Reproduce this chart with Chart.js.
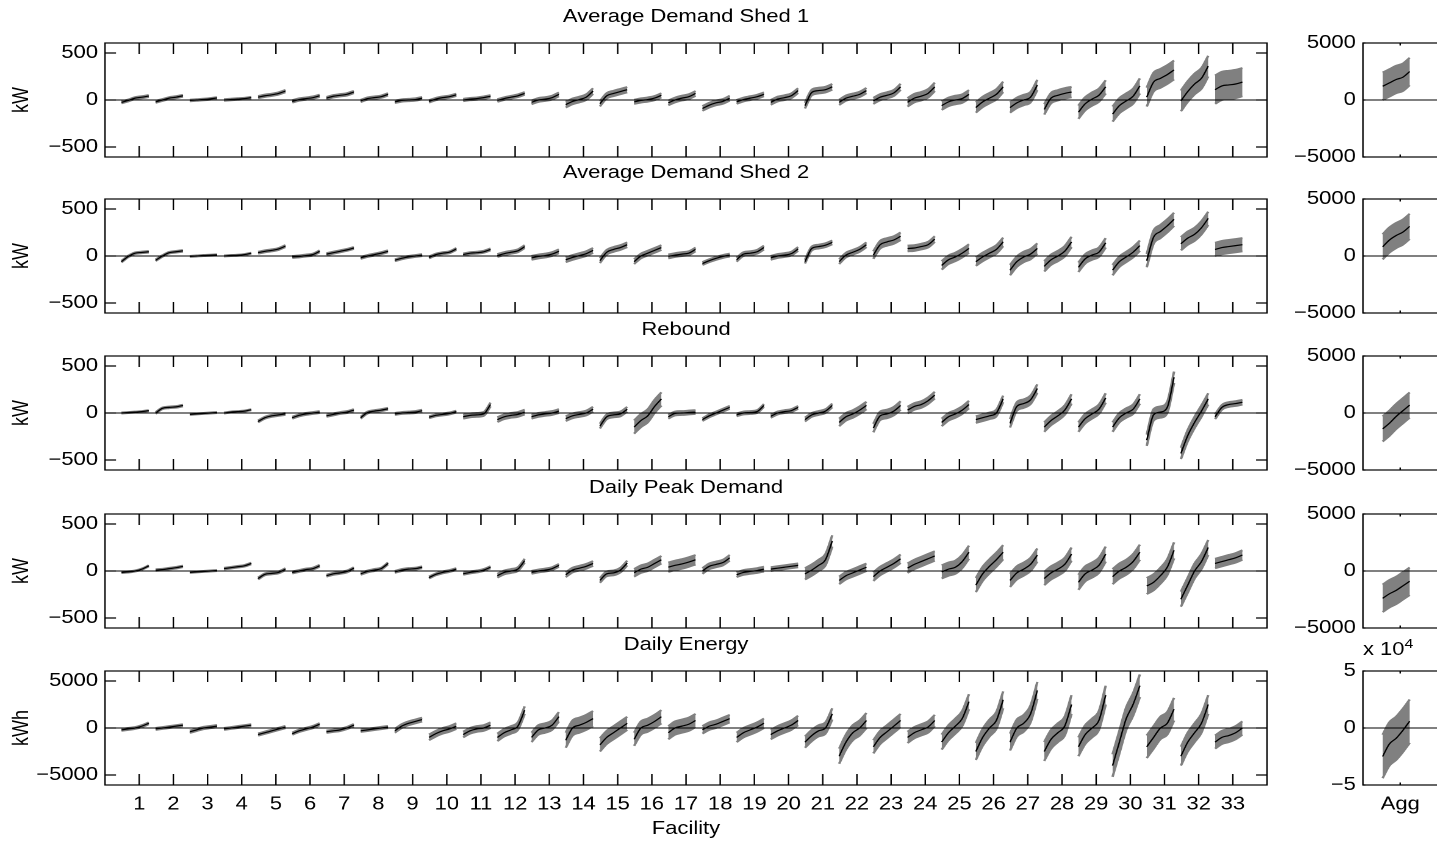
<!DOCTYPE html>
<html>
<head>
<meta charset="utf-8">
<title>Demand response estimates by facility</title>
<script src="https://cdn.jsdelivr.net/npm/chart.js@4.4.1/dist/chart.umd.min.js"></script>
<style>
  html, body { margin: 0; padding: 0; background: #fff; overflow: hidden; }
  #page { position: relative; height: 844px; transform-origin: 0 0; font-family: "Liberation Sans", Arial, Helvetica, sans-serif; }
  .panel { position: absolute; }
  #exp { position: absolute; top: 640px; font-size: 18px; line-height: 18px; white-space: nowrap; color: #000; }
  #exp sup { font-size: 13px; vertical-align: 7px; line-height: 0; }
</style>
</head>
<body>
<div id="page">
  <div id="exp">x 10<sup>4</sup></div>
</div>
<script>
// facilities on the x axis
const FACILITIES = [1, 2, 3, 4, 5, 6, 7, 8, 9, 10, 11, 12, 13, 14, 15, 16, 17, 18, 19, 20, 21, 22, 23, 24, 25, 26, 27, 28, 29, 30, 31, 32, 33];
const AGG_X = [1];

const TITLES = ['Average Demand Shed 1', 'Average Demand Shed 2', 'Rebound', 'Daily Peak Demand', 'Daily Energy'];
const UNITS = ['kW', 'kW', 'kW', 'kW', 'kWh'];

// sorted estimates per facility (5 per facility) and half-height of the gray band
const SHED1 = [
  [-25, -5, 20, 30, 42], [-20, 0, 20, 30, 45], [-5, 0, 5, 12, 22], [0, 5, 10, 15, 25], [30, 45, 55, 70, 95],
  [-15, 5, 15, 25, 45], [20, 40, 50, 60, 85], [-10, 15, 25, 35, 60], [-20, -5, 0, 5, 20], [-15, 10, 25, 35, 55],
  [0, 10, 15, 25, 40], [-5, 15, 30, 45, 70], [-25, 0, 10, 25, 60], [-50, -15, 5, 30, 95], [-40, 45, 70, 90, 110],
  [-20, -5, 5, 20, 50], [-30, 0, 20, 35, 70], [-90, -55, -30, -15, 20], [-20, 5, 20, 35, 60], [-25, 10, 25, 45, 100],
  [-60, 80, 100, 110, 140], [-25, 20, 40, 60, 100], [-10, 30, 50, 75, 140], [-25, 20, 40, 70, 140], [-60, -20, 0, 15, 60],
  [-80, -20, 20, 60, 140], [-80, -30, 0, 30, 160], [-100, 20, 50, 70, 85], [-130, -40, 10, 50, 140], [-150, -60, -10, 40, 150],
  [30, 190, 230, 270, 320], [-10, 90, 170, 230, 360], [110, 150, 160, 170, 190]
];
const SHED1_ERR = [10, 10, 8, 8, 12, 12, 12, 12, 12, 12, 12, 14, 20, 30, 28, 22, 25, 25, 20, 25, 30, 28, 32, 45, 45, 55, 55, 55, 70, 80, 100, 110, 150];

const SHED2 = [
  [-60, -5, 30, 38, 45], [-45, 0, 35, 45, 55], [-5, 0, 5, 8, 12], [0, 5, 8, 15, 30], [35, 50, 60, 75, 105],
  [-10, -5, 5, 15, 50], [20, 35, 50, 65, 85], [-20, 0, 15, 30, 50], [-45, -25, -10, 0, 10], [-15, 15, 30, 40, 75],
  [15, 30, 35, 45, 70], [5, 25, 40, 55, 100], [-20, -5, 5, 20, 50], [-40, -15, 5, 25, 60], [-50, 40, 70, 90, 120],
  [-60, 0, 30, 60, 90], [-5, 10, 20, 30, 70], [-80, -50, -25, -5, 10], [-40, 20, 30, 45, 90], [-20, 0, 10, 25, 75],
  [-60, 80, 100, 115, 145], [-60, 10, 40, 70, 120], [10, 120, 150, 170, 210], [80, 85, 100, 120, 180], [-100, -40, -10, 30, 80],
  [-60, -10, 30, 70, 150], [-150, -60, -10, 20, 80], [-110, -40, 0, 50, 150], [-120, -30, 10, 40, 140], [-150, -60, -10, 40, 110],
  [-50, 200, 260, 320, 390], [130, 190, 230, 300, 400], [70, 90, 100, 110, 120]
];
const SHED2_ERR = [8, 8, 5, 5, 10, 10, 10, 10, 10, 10, 10, 15, 20, 25, 25, 25, 20, 15, 20, 20, 20, 25, 40, 30, 45, 45, 55, 55, 50, 55, 70, 70, 70];

const REBOUND = [
  [0, 5, 10, 15, 25], [0, 50, 60, 65, 80], [-15, -10, -5, 0, 5], [0, 10, 15, 20, 35], [-90, -50, -30, -20, -10],
  [-50, -25, -10, 0, 10], [-30, -15, 0, 10, 30], [-50, 5, 20, 30, 45], [-10, 0, 5, 10, 25], [-45, -25, -15, -5, 15],
  [-40, -25, -20, -10, 90], [-70, -40, -25, -15, 10], [-40, -20, -10, 0, 20], [-60, -30, -15, 0, 40], [-140, -40, -20, -10, 40],
  [-150, -80, -30, 70, 150], [-40, -5, 0, 5, 10], [-70, -30, 0, 30, 60], [-20, 0, 5, 15, 80], [-35, 0, 15, 25, 60],
  [-70, -20, 0, 20, 80], [-100, -40, -10, 30, 80], [-160, -30, -10, 20, 80], [30, 70, 90, 130, 190], [-100, -40, -10, 30, 90],
  [-70, -50, -30, 0, 150], [-110, 70, 100, 140, 260], [-150, -80, -30, 30, 150], [-150, -60, -10, 40, 160], [-150, -50, 0, 40, 150],
  [-290, -20, 10, 60, 380], [-430, -240, -100, 20, 150], [-40, 60, 90, 100, 115]
];
const REBOUND_ERR = [5, 8, 5, 5, 10, 10, 10, 10, 10, 10, 20, 25, 20, 25, 25, 70, 20, 15, 15, 15, 20, 40, 45, 35, 40, 35, 45, 50, 50, 50, 60, 60, 25];

const PEAK = [
  [-15, -10, 0, 20, 55], [10, 15, 25, 35, 50], [-15, -10, -5, 0, 5], [25, 35, 45, 55, 80], [-80, -35, -25, -15, 20],
  [-15, 0, 15, 25, 55], [-50, -30, -20, -5, 30], [-30, -5, 10, 25, 80], [-10, 10, 20, 25, 40], [-70, -35, -15, 0, 20],
  [-30, -15, -5, 10, 40], [-50, -15, 0, 20, 110], [-15, 0, 10, 25, 60], [-40, 10, 30, 50, 80], [-100, -30, -20, 10, 85],
  [-20, 20, 40, 80, 120], [40, 60, 75, 95, 120], [0, 50, 70, 90, 140], [-40, -15, -5, 5, 20], [20, 30, 40, 50, 60],
  [-30, 10, 60, 120, 320], [-100, -50, -20, 10, 40], [-60, 0, 40, 80, 130], [30, 70, 100, 130, 160], [-10, 20, 40, 100, 200],
  [-150, -30, 50, 120, 200], [-100, -20, 20, 70, 170], [-80, -20, 20, 70, 180], [-120, -30, 10, 60, 180], [-60, 0, 40, 100, 200],
  [-160, -120, -50, 40, 220], [-300, -150, 0, 100, 250], [80, 100, 120, 140, 170]
];
const PEAK_ERR = [6, 8, 5, 8, 10, 10, 10, 10, 10, 10, 10, 20, 15, 25, 25, 40, 50, 30, 25, 20, 60, 40, 45, 50, 70, 75, 70, 70, 80, 80, 85, 80, 50];

const ENERGY = [
  [-200, -100, 0, 200, 500], [-100, 0, 100, 200, 300], [-400, -200, 0, 100, 200], [-100, 0, 100, 200, 300], [-700, -500, -300, -100, 100],
  [-600, -300, -100, 100, 400], [-400, -300, -200, 0, 300], [-300, -200, -100, 0, 100], [-300, 200, 500, 700, 900], [-1000, -600, -300, -100, 200],
  [-700, -300, -100, 0, 300], [-1000, -500, -200, 200, 1900], [-1000, -200, 0, 300, 1200], [-1300, 0, 300, 600, 1000], [-1800, -1000, -500, 0, 500],
  [-1200, 0, 300, 700, 1200], [-500, 0, 200, 400, 800], [-200, 200, 400, 700, 1000], [-1000, -500, -200, 100, 500], [-700, -300, 0, 300, 800],
  [-1500, -800, -300, 0, 1500], [-3000, -1500, -500, 0, 800], [-2000, -1000, -400, 200, 800], [-1000, -500, -200, 100, 800], [-1500, -500, 200, 1000, 2800],
  [-2500, -1000, 0, 800, 3000], [-1500, 0, 500, 1500, 4000], [-2500, -1200, -500, 200, 2500], [-2000, -700, 0, 800, 3500], [-4000, -1500, 1000, 2500, 4500],
  [-2000, -1000, 0, 500, 2000], [-3000, -1500, -500, 500, 2500], [-1500, -1000, -800, -500, 0]
];
const ENERGY_ERR = [100, 100, 120, 100, 120, 120, 120, 120, 200, 300, 300, 400, 500, 800, 700, 700, 700, 400, 500, 500, 600, 800, 700, 600, 800, 900, 900, 1000, 1000, 1200, 1200, 1000, 700];

// aggregate over all facilities
const AGG_SHED1 = [1200, 1500, 1800, 2000, 2500];
const AGG_SHED2 = [800, 1400, 1800, 2100, 2600];
const AGG_REBOUND = [-1400, -900, -300, 200, 700];
const AGG_PEAK = [-2400, -2000, -1700, -1300, -900];
const AGG_ENERGY = [-25000, -14000, -9000, -2000, 6000];
const AGG_ERR = [1200, 1100, 1100, 1200, 19000];

// tick labels
const Y_TICKS_KW = [-500, 0, 500];
const Y_TICKS_KWH = [-5000, 0, 5000];
const Y_TICKS_AGG = [-5000, 0, 5000];
const Y_TICKS_AGG_E = [-50000, 0, 50000];

// ---- layout (reference pixels; the page is stretched horizontally by SX) ----
const SX = 1.22;
const W = v => v / SX;
const ROW_TOP = [43, 199, 356, 514, 671];
const PLOT_H = 114;
const TITLE_H = 37;
const OFFSETS = [-0.52, -0.32, -0.12, 0.08, 0.28];
const GRAY = '#808080';

Chart.defaults.font.family = '"Liberation Sans", Arial, Helvetica, sans-serif';
Chart.defaults.font.size = 18;
Chart.defaults.color = '#000';
Chart.defaults.animation = false;

const page = document.getElementById('page');
page.style.width = W(1437) + 'px';
page.style.transform = 'scaleX(' + SX + ')';
document.getElementById('exp').style.left = W(1363) + 'px';

function signed(v) {
  return (v < 0 ? '\u2212' : '') + Math.abs(v);
}

// estimate line plus upper/lower edge of the uncertainty band, broken between facilities
function buildSeries(centers, rows, errs) {
  const line = [], upper = [], lower = [];
  centers.forEach((c, i) => {
    rows[i].forEach((v, k) => {
      const x = c + OFFSETS[k];
      line.push({ x: x, y: v });
      upper.push({ x: x, y: v + errs[i] });
      lower.push({ x: x, y: v - errs[i] });
    });
    const gap = { x: c + 0.5, y: null };
    line.push(gap); upper.push(gap); lower.push(gap);
  });
  return { line, upper, lower };
}

// axes box with inward tick marks
function frame(xTicks, yTicks, lenV, lenH) {
  return {
    id: 'frame',
    afterDatasetsDraw(chart) {
      const { ctx, chartArea: a, scales } = chart;
      ctx.save();
      ctx.strokeStyle = '#000';
      ctx.lineWidth = 1.2;
      ctx.beginPath();
      xTicks.forEach(v => {
        const px = scales.x.getPixelForValue(v);
        ctx.moveTo(px, a.top); ctx.lineTo(px, a.top + lenV);
        ctx.moveTo(px, a.bottom); ctx.lineTo(px, a.bottom - lenV);
      });
      yTicks.forEach(v => {
        const py = scales.y.getPixelForValue(v);
        ctx.moveTo(a.left, py); ctx.lineTo(a.left + lenH, py);
        ctx.moveTo(a.right, py); ctx.lineTo(a.right - lenH, py);
      });
      ctx.stroke();
      ctx.strokeRect(a.left, a.top, a.right - a.left, a.bottom - a.top);
      ctx.restore();
    }
  };
}

function makePanel(p) {
  const box = document.createElement('div');
  box.className = 'panel';
  Object.assign(box.style, { left: p.left + 'px', top: p.top + 'px', width: p.width + 'px', height: p.height + 'px' });
  const canvas = document.createElement('canvas');
  box.appendChild(canvas);
  page.appendChild(box);

  const s = buildSeries(p.centers, p.values, p.errs);
  const curve = { pointRadius: 0, spanGaps: false, cubicInterpolationMode: 'monotone' };

  return new Chart(canvas, {
    type: 'line',
    data: {
      datasets: [
        { data: [{ x: p.xMin, y: 0 }, { x: p.xMax, y: 0 }], borderColor: '#000', borderWidth: 1, pointRadius: 0, fill: false, order: 0 },
        Object.assign({ data: s.line, borderColor: '#000', borderWidth: 1.2, fill: false, order: 1 }, curve),
        Object.assign({ data: s.upper, borderColor: GRAY, borderWidth: 2, backgroundColor: GRAY, fill: '+1', order: 2 }, curve),
        Object.assign({ data: s.lower, borderColor: GRAY, borderWidth: 2, fill: false, order: 3 }, curve)
      ]
    },
    options: {
      responsive: true,
      maintainAspectRatio: false,
      devicePixelRatio: 2,
      events: [],
      layout: { padding: p.padding },
      plugins: {
        legend: { display: false },
        tooltip: { enabled: false },
        title: {
          display: !!p.title, text: p.title || '', fullSize: false, color: '#000',
          font: { size: 18, weight: 'normal' }, padding: { top: 0, bottom: TITLE_H - 21.6 }
        }
      },
      scales: {
        x: {
          type: 'linear', min: p.xMin, max: p.xMax, offset: false,
          grid: { display: false, drawTicks: false },
          border: { display: false },
          afterBuildTicks: sc => { sc.ticks = p.xTicks.map(v => ({ value: v })); },
          ticks: {
            display: !!p.xLabel, autoSkip: false, maxRotation: 0, minRotation: 0, padding: 8.7,
            callback: v => (p.xLabel ? p.xLabel(v) : '')
          },
          title: { display: !!p.xTitle, text: p.xTitle || '', padding: { top: 0, bottom: 5.2 } },
          afterFit: sc => { sc.height = p.xAxisH; }
        },
        y: {
          min: p.yMin, max: p.yMax,
          grid: { display: false, drawTicks: false },
          border: { display: false },
          afterBuildTicks: sc => { sc.ticks = p.yTicks.map(v => ({ value: v })); },
          ticks: { autoSkip: false, padding: W(7), callback: p.yFmt },
          title: { display: !!p.yTitle, text: p.yTitle || '', padding: { top: 7.2, bottom: 0 } },
          afterFit: sc => { sc.width = p.yAxisW; }
        }
      }
    },
    plugins: [frame(p.xTicks, p.yTicks, p.tickV, p.tickH)]
  });
}

const ROWS = [
  { values: SHED1, errs: SHED1_ERR, agg: AGG_SHED1 },
  { values: SHED2, errs: SHED2_ERR, agg: AGG_SHED2 },
  { values: REBOUND, errs: REBOUND_ERR, agg: AGG_REBOUND },
  { values: PEAK, errs: PEAK_ERR, agg: AGG_PEAK },
  { values: ENERGY, errs: ENERGY_ERR, agg: AGG_ENERGY }
];

ROWS.forEach((row, r) => {
  const last = r === ROWS.length - 1;
  const xAxisH = last ? 60 : 20;

  // facility panel
  makePanel({
    left: 0, top: ROW_TOP[r] - TITLE_H, width: W(1280), height: TITLE_H + PLOT_H + xAxisH,
    padding: { left: 0, right: W(13), top: 0, bottom: 0 },
    title: TITLES[r],
    centers: FACILITIES, values: row.values, errs: row.errs,
    xMin: 0, xMax: 34, xTicks: FACILITIES,
    xLabel: last ? (v => String(v)) : null, xTitle: last ? 'Facility' : null, xAxisH: xAxisH,
    yMin: last ? -6064 : -606, yMax: last ? 6064 : 606,
    yTicks: last ? Y_TICKS_KWH : Y_TICKS_KW, yFmt: v => signed(v),
    yTitle: UNITS[r], yAxisW: W(105),
    tickV: 11, tickH: W(11)
  });

  // aggregate panel
  makePanel({
    left: W(1285), top: ROW_TOP[r] - 20, width: W(1452 - 1285), height: 20 + PLOT_H + xAxisH,
    padding: { left: 0, right: 0, top: 20, bottom: 0 },
    title: null,
    centers: AGG_X, values: [row.agg], errs: [AGG_ERR[r]],
    xMin: -0.1, xMax: 2.5, xTicks: AGG_X,
    xLabel: last ? (() => 'Agg') : null, xTitle: null, xAxisH: xAxisH,
    yMin: last ? -50000 : -5000, yMax: last ? 50000 : 5000,
    yTicks: last ? Y_TICKS_AGG_E : Y_TICKS_AGG,
    yFmt: last ? (v => signed(v / 10000)) : (v => signed(v)),
    yTitle: null, yAxisW: W(1363 - 1285),
    tickV: 2.5, tickH: W(2.5)
  });
});
</script>
</body>
</html>
